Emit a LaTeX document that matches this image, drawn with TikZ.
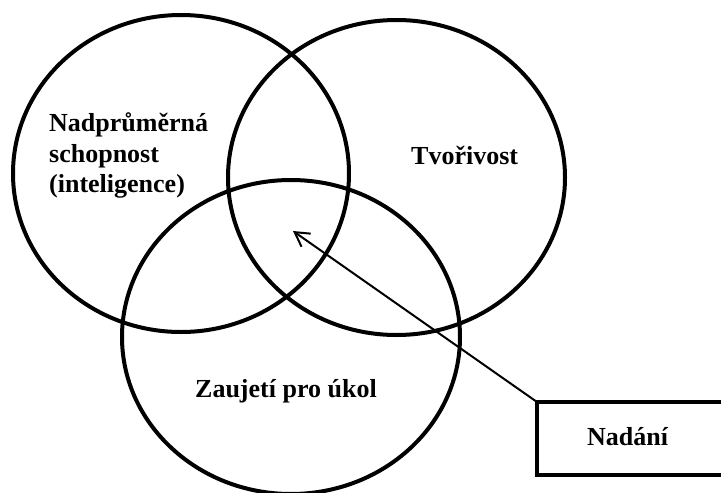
\documentclass[tikz,border=0pt]{standalone}
\usepackage{fontspec}
\setmainfont{Liberation Serif}
\usetikzlibrary{shapes.geometric,arrows.meta}
\begin{document}
\begin{tikzpicture}[x=1pt,y=-1pt,
  venn/.style={ellipse,draw,line width=4pt,inner sep=0pt,outer sep=0pt},
  lbl/.style={anchor=base west,inner sep=0pt,font=\fontsize{26}{30.5}\selectfont\bfseries,align=left},
  box/.style={rectangle,draw,line width=4pt,inner sep=0pt,outer sep=0pt,anchor=north west},
  pointer/.style={line width=2pt,-{Straight Barb[length=14pt,width=16pt,line width=2pt]}}]
\useasboundingbox (0,0) rectangle (721,493);
\clip (0,0) rectangle (721,493);
\node[venn,minimum width=336pt,minimum height=317pt] (ability) at (181,173.5) {};
\node[venn,minimum width=337pt,minimum height=315pt] (creativity) at (396.5,177.5) {};
\node[venn,minimum width=338pt,minimum height=314pt] (commitment) at (291,337) {};
\node[lbl] (abilitytext) at (49,192.7) {Nadprůměrná\\schopnost\\(inteligence)};
\node[lbl] (creativitytext) at (411,164) {Tvořivost};
\node[lbl] (commitmenttext) at (195,397) {Zaujetí pro úkol};
\node[box,minimum width=260pt,minimum height=73pt] (nadani) at (537,402) {};
\node[lbl] (nadanitext) at (587,445) {Nadání};
\coordinate (tip) at (293,231);
\draw[pointer] (nadani.north west) -- (tip);
\end{tikzpicture}
\end{document}
